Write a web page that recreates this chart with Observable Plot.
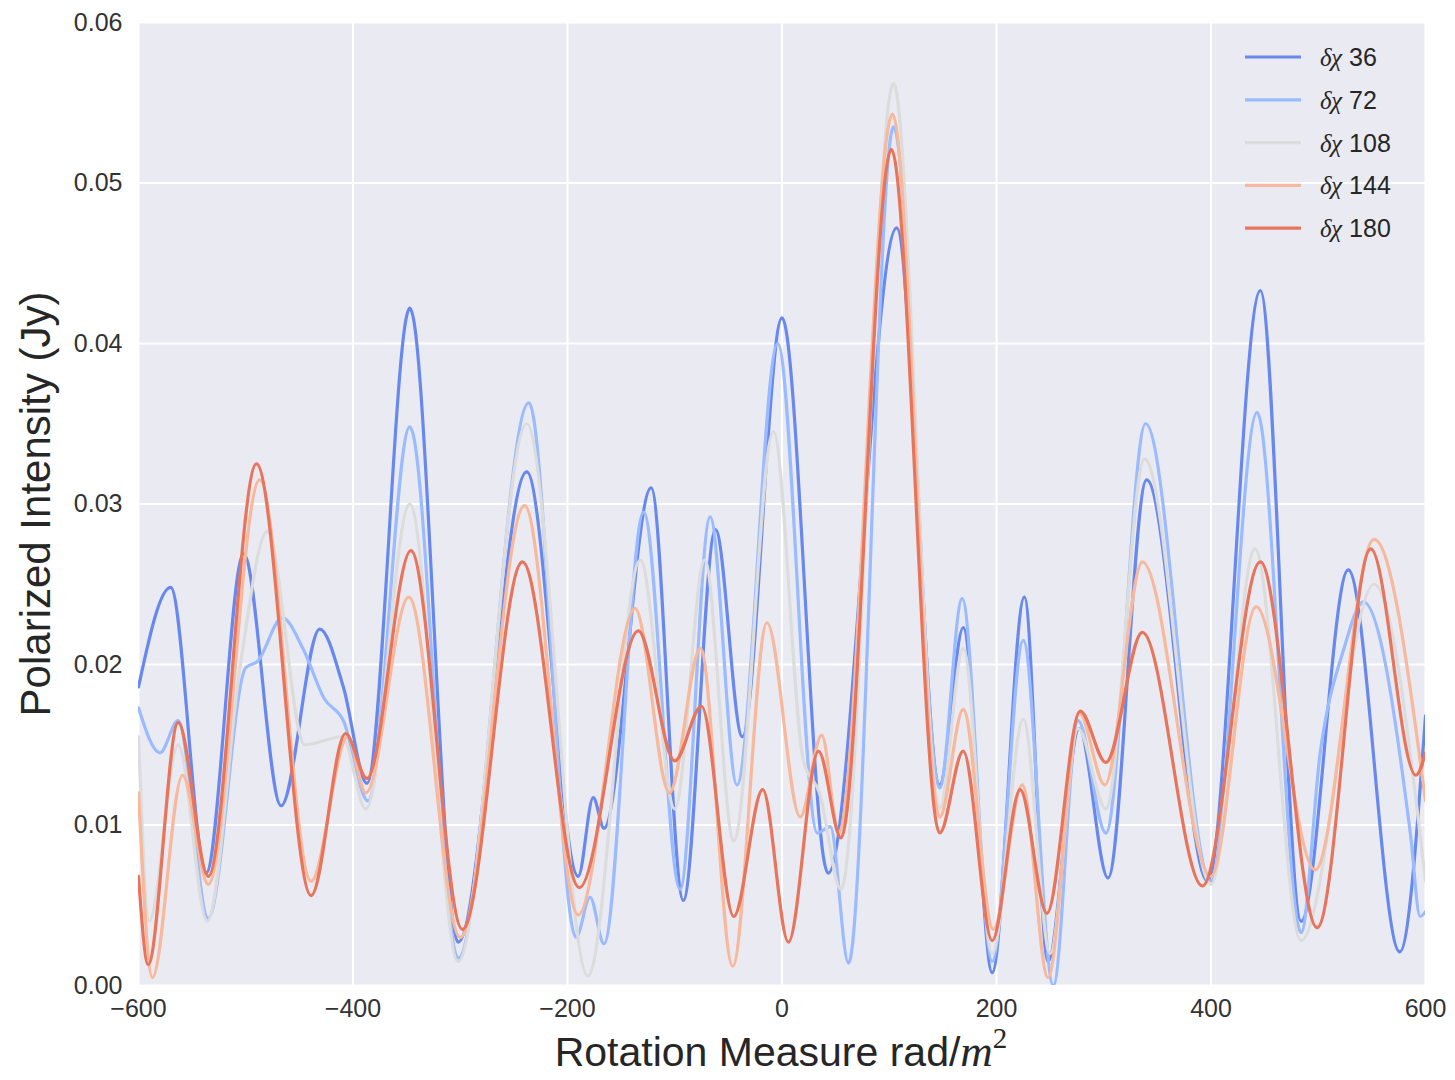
<!DOCTYPE html>
<html><head><meta charset="utf-8">
<script src="https://cdn.jsdelivr.net/npm/d3@7"></script>
<script src="https://cdn.jsdelivr.net/npm/@observablehq/plot@0.6"></script>
<style>
html,body{margin:0;padding:0;background:#fff;}
#chart{position:relative;width:1455px;height:1080px;}
</style>
</head><body><div id="chart"></div>
<script>
// Series: δχ values
const seriesNames = ["36", "72", "108", "144", "180"];
const seriesColors = ["#6788ee", "#9abbff", "#dddcdc", "#f7b89c", "#e7745b"];

// δχ 36
const rm36 = [-600,-570,-537,-502,-467,-431,-409,-387,-347,-302,-238,-190,-176,-166,-122,-92,-62,-37,0,43,107,147,169,196,226,248,277,304,340,397,446,484,528,576,600];
const pi36 = [0.0186,0.0248,0.0070,0.0269,0.0112,0.0222,0.0186,0.0126,0.0422,0.0027,0.0320,0.0068,0.0117,0.0098,0.0310,0.0053,0.0284,0.0155,0.0416,0.0070,0.0472,0.0125,0.0223,0.0008,0.0242,0.0015,0.0160,0.0067,0.0315,0.0065,0.0433,0.0040,0.0259,0.0021,0.0168];

// δχ 72
const rm72 = [-600,-580,-563,-535,-500,-489,-466,-446,-427,-409,-386,-347,-302,-236,-192,-179,-166,-129,-95,-67,-42,-4,33,45,62,104,147,168,196,225,253,276,302,339,400,443,484,502,524,542,586,595,600];
const pi72 = [0.0173,0.0145,0.0165,0.0042,0.0198,0.0202,0.0229,0.0209,0.0179,0.0165,0.0115,0.0348,0.0017,0.0363,0.0030,0.0055,0.0026,0.0295,0.0060,0.0292,0.0125,0.0400,0.0095,0.0099,0.0014,0.0535,0.0123,0.0241,0.0015,0.0215,0.0000,0.0165,0.0095,0.0350,0.0065,0.0357,0.0033,0.0146,0.0210,0.0239,0.0094,0.0043,0.0046];

// δχ 108
const rm108 = [-600,-590,-563,-536,-505,-480,-445,-410,-388,-347,-302,-238,-181,-132,-100,-72,-45,-8,20,35,55,104,147,169,196,225,250,276,302,338,400,441,484,552,600];
const pi108 = [0.0155,0.0040,0.0150,0.0040,0.0200,0.0283,0.0150,0.0155,0.0110,0.0300,0.0015,0.0350,0.0006,0.0265,0.0110,0.0265,0.0090,0.0345,0.0140,0.0120,0.0060,0.0562,0.0110,0.0210,0.0020,0.0166,0.0020,0.0160,0.0110,0.0328,0.0063,0.0272,0.0028,0.0250,0.0065];

// δχ 144
const rm144 = [-600,-587,-559,-535,-487,-439,-405,-388,-348,-300,-240,-190,-137,-105,-76,-46,-14,17,37,53,103,147,169,197,224,248,277,301,336,400,442,497,552,600];
const pi144 = [0.0120,0.0005,0.0131,0.0063,0.0315,0.0065,0.0155,0.0120,0.0242,0.0030,0.0299,0.0044,0.0235,0.0120,0.0210,0.0012,0.0226,0.0105,0.0156,0.0095,0.0543,0.0105,0.0172,0.0035,0.0125,0.0005,0.0170,0.0125,0.0264,0.0068,0.0236,0.0072,0.0278,0.0115];

// δχ 180
const rm180 = [-600,-591,-563,-535,-490,-439,-407,-387,-346,-298,-242,-189,-134,-100,-75,-45,-18,6,34,55,102,147,169,196,222,247,278,302,336,392,446,499,549,591,600];
const pi180 = [0.0068,0.0013,0.0164,0.0068,0.0325,0.0056,0.0157,0.0129,0.0271,0.0035,0.0264,0.0061,0.0221,0.0140,0.0174,0.0043,0.0122,0.0027,0.0146,0.0092,0.0521,0.0095,0.0146,0.0028,0.0122,0.0045,0.0171,0.0139,0.0220,0.0062,0.0264,0.0036,0.0272,0.0131,0.0145];

const xTicks = [-600, -400, -200, 0, 200, 400, 600];
const yTicks = [0, 0.01, 0.02, 0.03, 0.04, 0.05, 0.06];

const rmArrays = [rm36, rm72, rm108, rm144, rm180];
const piArrays = [pi36, pi72, pi108, pi144, pi180];
const rows = [];
seriesNames.forEach((s, i) => {
  rmArrays[i].forEach((x, j) => rows.push({series: s, rm: x, pi: piArrays[i][j]}));
});

const fmtX = d => d < 0 ? "\u2212" + Math.abs(d) : String(d);
const W = 1455, H = 1080;
const chart = Plot.plot({
  width: W, height: H,
  marginLeft: 138, marginRight: 30, marginTop: 22, marginBottom: 95,
  style: {background: "#ffffff", fontFamily: "'Liberation Sans', Arial, sans-serif", fontSize: "25px", color: "#333"},
  x: {domain: [-600, 600], label: null},
  y: {domain: [0, 0.06], label: null},
  color: {domain: seriesNames, range: seriesColors},
  marks: [
    Plot.frame({fill: "#eaeaf2", stroke: null}),
    Plot.gridX(xTicks, {stroke: "#ffffff", strokeOpacity: 1, strokeWidth: 2}),
    Plot.gridY(yTicks, {stroke: "#ffffff", strokeOpacity: 1, strokeWidth: 2}),
    Plot.line(rows, {x: "rm", y: "pi", z: "series", stroke: "series", strokeWidth: 3.2, curve: "monotone-x", clip: true}),
    Plot.axisX(xTicks, {tickSize: 0, tickPadding: 14, fontSize: 25, fill: "#333", tickFormat: fmtX, label: null}),
    Plot.axisY(yTicks, {tickSize: 0, tickPadding: 16, fontSize: 25, fill: "#333", tickFormat: d3.format(".2f"), label: null})
  ]
});
document.getElementById("chart").appendChild(chart);

const svg = d3.select(chart);
// Axis labels
svg.append("text")
  .attr("transform", "translate(50,504) rotate(-90)")
  .attr("text-anchor", "middle")
  .style("font-family", "'Liberation Sans', Arial, sans-serif")
  .style("font-size", "42px").attr("fill", "#262626")
  .text("Polarized Intensity (Jy)");

const xl = svg.append("text")
  .attr("x", 781).attr("y", 1066)
  .attr("text-anchor", "middle")
  .style("font-family", "'Liberation Sans', Arial, sans-serif")
  .style("font-size", "41px").attr("fill", "#262626");
xl.append("tspan").text("Rotation Measure rad/");
xl.append("tspan").style("font-family", "'Liberation Serif', serif").style("font-style", "italic").style("font-size", "45px").text("m");
xl.append("tspan").attr("dy", -18).style("font-family", "'Liberation Serif', serif").style("font-size", "29px").text("2");

// Legend
const lg = svg.append("g").attr("text-anchor", "start");
seriesNames.forEach((s, i) => {
  const y = 57 + i * 42.8;
  lg.append("line").attr("x1", 1245).attr("x2", 1301).attr("y1", y).attr("y2", y)
    .attr("stroke", seriesColors[i]).attr("stroke-width", 3.2);
  const t = lg.append("text").attr("x", 1320).attr("y", y + 9).attr("text-anchor", "start")
    .style("font-family", "'Liberation Sans', Arial, sans-serif").style("font-size", "25px").attr("fill", "#262626");
  t.append("tspan").style("font-family", "'Liberation Serif', serif").style("font-style", "italic").text("δχ");
  t.append("tspan").text(" " + s);
});
</script>
</body></html>
